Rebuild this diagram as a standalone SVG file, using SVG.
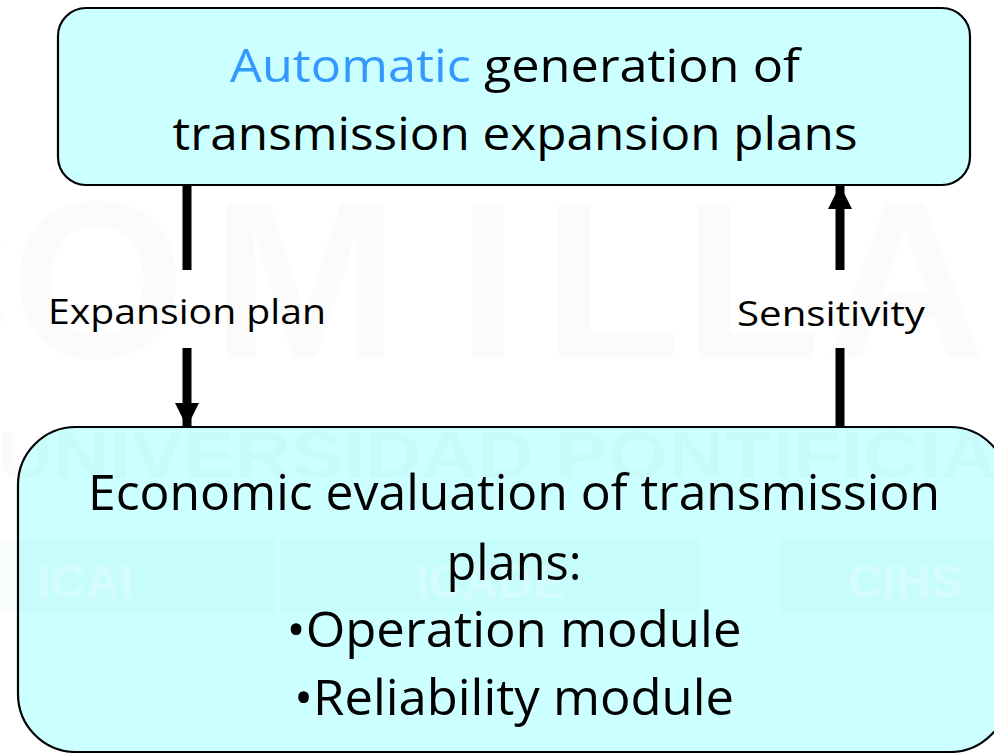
<svg xmlns="http://www.w3.org/2000/svg" width="994" height="753" viewBox="0 0 994 753">
  <style>
    .box { fill: #CCFFFF; stroke: #000; stroke-width: 2.2; }
    .main { font-family: "Open Sans", "Liberation Sans", sans-serif; fill: #000; text-anchor: middle; }
    .lbl { font-family: "Open Sans", "Liberation Sans", sans-serif; fill: #000; font-size: 35px; text-anchor: middle; }
    .wm { font-family: "Liberation Sans", sans-serif; text-anchor: middle; }
    .conn { stroke: #000; stroke-width: 9; fill: none; }
  </style>
  <defs>
    <marker id="head" viewBox="0 0 10 10" refX="10" refY="5" markerWidth="2.7" markerHeight="2.7" orient="auto" markerUnits="strokeWidth">
      <path d="M0,0 L10,5 L0,10 Z" fill="#000"/>
    </marker>
  </defs>

  <rect width="994" height="753" fill="#fff"/>

  <g id="node-generation">
    <rect class="box" x="58" y="8" width="912" height="177" rx="28" ry="28"/>
  </g>
  <g id="node-evaluation">
    <rect class="box" x="18" y="427" width="990" height="325" rx="58" ry="58"/>
  </g>

  <!-- faint background watermark -->
  <g id="watermark" class="wm">
    <g fill="#000" fill-opacity="0.014" font-size="225" font-weight="bold">
      <text x="-70" y="358">C</text>
      <text x="98" y="358">O</text>
      <text x="305" y="358">M</text>
      <text x="488" y="358">I</text>
      <text x="612" y="358">L</text>
      <text x="752" y="358">L</text>
      <text x="905" y="358">A</text>
    </g>
    <text x="497" y="478" font-size="66" font-weight="bold" fill="#000" fill-opacity="0.02" textLength="1000" lengthAdjust="spacingAndGlyphs">UNIVERSIDAD PONTIFICIA</text>
    <rect x="0" y="540" width="275" height="72" fill="#008899" fill-opacity="0.025"/>
    <rect x="280" y="540" width="420" height="72" fill="#008899" fill-opacity="0.025"/>
    <rect x="780" y="540" width="214" height="72" fill="#008899" fill-opacity="0.025"/>
    <g fill="#fff" fill-opacity="0.25" font-weight="bold" font-size="48">
      <text x="85" y="598">ICAI</text>
      <text x="490" y="598">ICADE</text>
      <text x="905" y="598">CIHS</text>
    </g>
  </g>

  <g id="connectors">
    <line class="conn" x1="187" y1="185" x2="187" y2="270"/>
    <line class="conn" x1="187" y1="348" x2="187" y2="427" marker-end="url(#head)"/>
    <line class="conn" x1="840" y1="427" x2="840" y2="348"/>
    <line class="conn" x1="840" y1="270" x2="840" y2="185" marker-end="url(#head)"/>
  </g>

  <g id="labels">
    <text class="lbl" x="187" y="324" textLength="278" lengthAdjust="spacingAndGlyphs">Expansion plan</text>
    <text class="lbl" x="831" y="326" textLength="188" lengthAdjust="spacingAndGlyphs">Sensitivity</text>
  </g>

  <g id="text-generation" class="main" font-size="46">
    <text x="515" y="82" textLength="570" lengthAdjust="spacingAndGlyphs"><tspan fill="#3399FF">Automatic</tspan> generation of</text>
    <text x="515" y="150" textLength="685" lengthAdjust="spacingAndGlyphs">transmission expansion plans</text>
  </g>

  <g id="text-evaluation" class="main" font-size="50">
    <text x="514" y="510" textLength="852" lengthAdjust="spacingAndGlyphs">Economic evaluation of transmission</text>
    <text x="514" y="580" textLength="135" lengthAdjust="spacingAndGlyphs">plans:</text>
    <text x="514" y="647" textLength="455" lengthAdjust="spacingAndGlyphs">•Operation module</text>
    <text x="514" y="715" textLength="440" lengthAdjust="spacingAndGlyphs">•Reliability module</text>
  </g>
</svg>
